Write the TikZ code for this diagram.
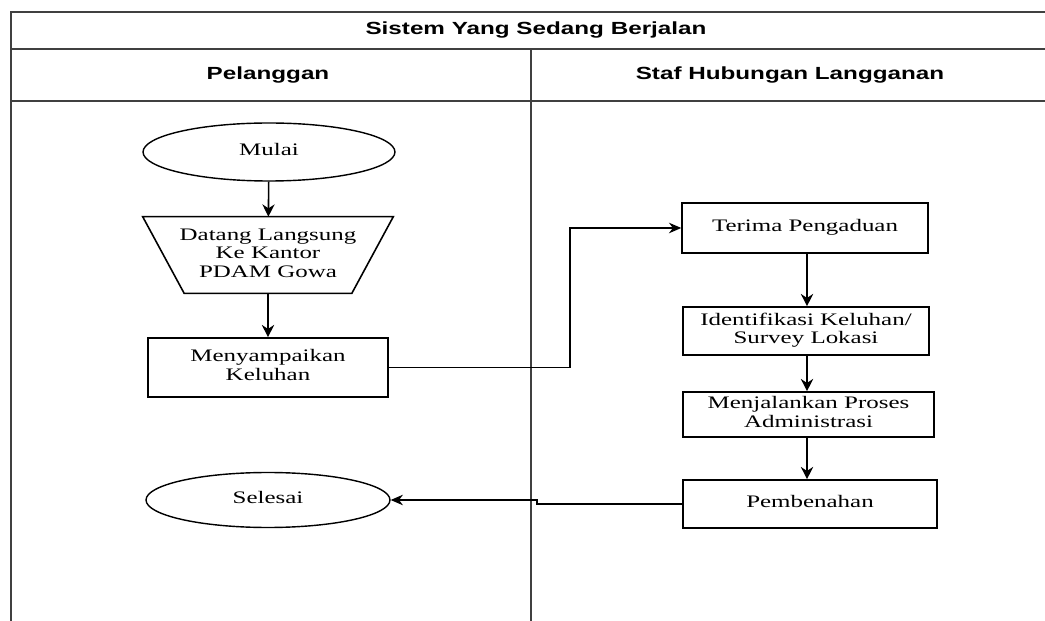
\documentclass[tikz,border=0pt]{standalone}
\usepackage{fontspec}
\setmainfont{Liberation Serif}
\setsansfont{Liberation Sans}
\usetikzlibrary{arrows.meta, shapes.geometric, positioning}

% wide serif text of the flowchart boxes
\newcommand{\boxtext}[1]{\scalebox{1.42}[1]{\fontsize{10}{10.5}\selectfont\begin{tabular}{@{}c@{}}#1\end{tabular}}}
% bold sans headings of the swimlanes
\newcommand{\lanetext}[1]{\scalebox{1.38}[1]{\fontsize{10}{12}\selectfont\sffamily\bfseries #1}}

\tikzset{
  lane/.style={line width=1pt, draw=black!75},
  terminal/.style={draw, ellipse, line width=0.8pt, inner sep=0pt},
  process/.style={draw, rectangle, line width=0.9pt, inner sep=0pt},
  manual/.style={rectangle, inner sep=0pt},
  flow/.style={line width=0.9pt, -{Stealth[length=7pt,width=7pt]}},
  link/.style={line width=0.6pt, -{Stealth[length=7pt,width=6pt]}}
}

\begin{document}
\begin{tikzpicture}[x=0.02cm, y=-0.02cm]
\useasboundingbox (0,0) rectangle (1045,621);

% swimlane frame
\draw[lane] (1045,12) -- (11,12) -- (11,621);
\draw[lane] (11,49) -- (1045,49);
\draw[lane] (11,101) -- (1045,101);
\draw[lane] (531,49) -- (531,621);
\node (judul) at (536,30) {\lanetext{Sistem Yang Sedang Berjalan}};
\node (pelanggan) at (268,75) {\lanetext{Pelanggan}};
\node (staf) at (790,75) {\lanetext{Staf Hubungan Langganan}};

% lane Pelanggan
\node[terminal, minimum width=5.04cm, minimum height=1.16cm] (mulai) at (269,152) {\boxtext{Mulai}};
\node[manual, minimum width=5cm, minimum height=1.52cm] (datang) at (268,255)
  {\boxtext{Datang Langsung\\Ke Kantor\\PDAM Gowa}};
% manual input: wide at the top, narrow at the bottom
\draw[line width=0.9pt] (datang.north west) -- (datang.north east)
  -- ([xshift=-0.83cm]datang.south east) -- ([xshift=0.83cm]datang.south west) -- cycle;
\node[process, minimum width=4.8cm, minimum height=1.18cm] (sampaikan) at (268,367.5)
  {\boxtext{Menyampaikan\\Keluhan}};
\node[terminal, minimum width=4.88cm, minimum height=1.1cm] (selesai) at (268,500) {\boxtext{Selesai}};

% lane Staf Hubungan Langganan
\node[process, minimum width=4.92cm, minimum height=1cm] (terima) at (805,228) {\boxtext{Terima Pengaduan}};
\node[process, minimum width=4.92cm, minimum height=0.96cm] (identifikasi) at (806,331)
  {\boxtext{Identifikasi Keluhan/\\Survey Lokasi}};
\node[process, minimum width=5.02cm, minimum height=0.9cm] (proses) at (808.5,414.5)
  {\boxtext{Menjalankan Proses\\Administrasi}};
\node[process, minimum width=5.08cm, minimum height=0.96cm] (benah) at (810,504) {\boxtext{Pembenahan}};

% alur
\draw[flow] (mulai) -- (datang);
\draw[flow] (datang) -- (sampaikan);
\draw[link] (sampaikan.east) -- (570,367.5) -- (570,228) -- (terima.west);
\draw[flow] (terima.south -| 807,0) -- (identifikasi.north -| 807,0);
\draw[flow] (identifikasi.south -| 807,0) -- (proses.north -| 807,0);
\draw[flow] (proses.south -| 807,0) -- (benah.north -| 807,0);
\draw[link] (benah.west) -- (537,504) -- (537,500) -- (selesai.east);
\end{tikzpicture}
\end{document}
